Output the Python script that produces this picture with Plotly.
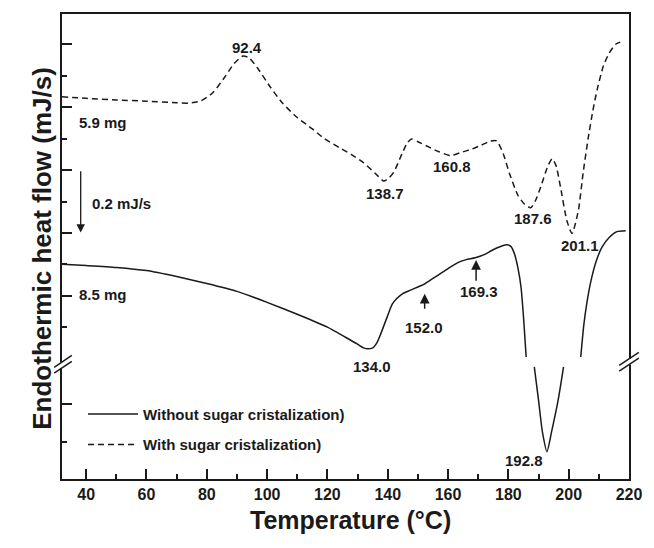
import plotly.graph_objects as go

# ---------------- data (temperature in °C, heat flow in mJ/s, arbitrary offset) -------------
temp_with = [32, 40, 50, 60, 70, 74, 78, 82, 86, 89, 92, 94, 97, 101, 105, 110, 115, 119, 124,
             128, 132, 136, 138.7, 140.5, 142, 144.7, 146.5, 147.9, 150, 153.9, 157, 160.8, 164,
             168, 171, 174, 176.1, 178.3, 180.4, 183.2, 185.3, 187.4, 189, 190.7, 192.9, 194.5,
             195.8, 197.3, 199.4, 201.1, 203.2, 204.8, 206.5, 208, 209.5, 211.5, 213.5, 215.7, 218.4]
flow_with = [1.216, 1.211, 1.206, 1.202, 1.197, 1.196, 1.203, 1.229, 1.279, 1.321, 1.346, 1.340,
             1.305, 1.248, 1.197, 1.150, 1.114, 1.083, 1.054, 1.032, 1.006, 0.971, 0.948, 0.959,
             0.976, 1.034, 1.070, 1.082, 1.073, 1.055, 1.041, 1.029, 1.038, 1.050, 1.062, 1.075,
             1.076, 1.035, 0.971, 0.902, 0.875, 0.863, 0.886, 0.928, 0.991, 1.019, 0.997, 0.928,
             0.822, 0.781, 0.854, 0.975, 1.086, 1.171, 1.241, 1.314, 1.356, 1.384, 1.394]

temp_without = [32, 40, 50, 60, 70, 80, 90, 100, 110, 120, 126, 130, 132, 133.4, 135, 136.5, 137.5,
                139.8, 141.5, 143, 145, 147.4, 150, 152.3, 155, 158.2, 161, 163.6, 166, 169, 172,
                174.5, 177, 179.4, 180.8, 182, 183.2, 184.2, 185.1, 185.9, None,
                188.6, 190, 191.3, 192.8, 194.3, 196.5, 198.3, None,
                204, 205, 206, 207.5, 209.2, 211, 213.5, 216, 218.9]
flow_without = [0.683, 0.679, 0.673, 0.663, 0.644, 0.622, 0.597, 0.562, 0.524, 0.483, 0.451, 0.429,
                0.417, 0.414, 0.417, 0.435, 0.457, 0.515, 0.556, 0.574, 0.590, 0.600, 0.611, 0.621,
                0.638, 0.658, 0.676, 0.690, 0.698, 0.704, 0.714, 0.727, 0.738, 0.745, 0.740, 0.717,
                0.670, 0.610, 0.505, 0.388, None,
                0.357, 0.251, 0.149, 0.087, 0.149, 0.251, 0.357, None,
                0.388, 0.489, 0.559, 0.635, 0.695, 0.737, 0.769, 0.787, 0.790]

series_names = ["Without sugar cristalization)", "With sugar cristalization)"]

x_ticks = [40, 60, 80, 100, 120, 140, 160, 180, 200, 220]
y_major = [1.3825, 1.1825, 0.9825, 0.7825, 0.5825, 0.238]
y_minor = [1.2825, 1.0825, 0.8825, 0.6825, 0.4825, 0.117]

# peak labels: (text, T, flow)
peak_labels = [("92.4", 93.2, 1.372), ("138.7", 139.25, 0.907), ("160.8", 161.2, 0.995),
               ("187.6", 188.05, 0.828), ("201.1", 203.8, 0.743), ("134.0", 134.9, 0.359),
               ("152.0", 151.9, 0.483), ("169.3", 170.15, 0.598), ("192.8", 185.1, 0.060)]
# arrows: (T, tip flow, tail flow)
peak_arrows = [(152.25, 0.589, 0.537), (169.3, 0.697, 0.626)]
scale_bar = (38.2, 0.984, 0.784)   # 0.2 mJ/s

FONT = "Liberation Sans, Arial, Helvetica, sans-serif"
INK = "#1a1a1a"

fig = go.Figure()
fig.add_trace(go.Scatter(x=temp_without, y=flow_without, mode="lines", name=series_names[0],
                         line=dict(color=INK, width=1.5, shape="spline", smoothing=0.6),
                         connectgaps=False, legendgroup="a"))
fig.add_trace(go.Scatter(x=temp_with, y=flow_with, mode="lines", name=series_names[1],
                         line=dict(color=INK, width=1.5, dash="6px,4px", shape="spline",
                                   smoothing=0.6),
                         legendgroup="b"))

ann = []
for txt, xx, yy in peak_labels:
    ann.append(dict(x=xx, y=yy, xref="x", yref="y", text=txt, showarrow=False,
                    font=dict(size=15, family=FONT, color=INK, weight="bold")))
for xx, tip, tail in peak_arrows:
    ann.append(dict(x=xx, y=tip, ax=xx, ay=tail, xref="x", yref="y", axref="x", ayref="y",
                    text="", showarrow=True, arrowhead=2, arrowsize=1.3, arrowwidth=1.5,
                    arrowcolor=INK))
ann.append(dict(x=scale_bar[0], y=scale_bar[2], ax=scale_bar[0], ay=scale_bar[1], xref="x",
                yref="y", axref="x", ayref="y", text="", showarrow=True, arrowhead=2,
                arrowsize=1.3, arrowwidth=1.3, arrowcolor=INK))
ann.append(dict(x=41.3, y=0.876, xref="x", yref="y", xanchor="left", text="0.2 mJ/s",
                showarrow=False, font=dict(size=15, family=FONT, color=INK, weight="bold")))
ann.append(dict(x=36.9, y=1.134, xref="x", yref="y", xanchor="left", text="5.9 mg",
                showarrow=False, font=dict(size=15, family=FONT, color=INK, weight="bold")))
ann.append(dict(x=37.0, y=0.587, xref="x", yref="y", xanchor="left", text="8.5 mg",
                showarrow=False, font=dict(size=15, family=FONT, color=INK, weight="bold")))
# axis titles
ann.append(dict(x=0.5087, y=-0.1217, xref="paper", yref="paper", text="Temperature (°C)",
                showarrow=False, font=dict(size=25, family=FONT, color=INK, weight="bold")))
ann.append(dict(x=-0.0657, y=0.4968, xref="paper", yref="paper",
                text="Endothermic heat flow (mJ/s)", textangle=-90, showarrow=False,
                font=dict(size=26, family=FONT, color=INK, weight="bold")))

shapes = []
# axis break marks (left and right)
for gx, gy0, gy1 in [(0.0, 0.2382, 0.2511), (1.0, 0.2457, 0.2586)]:
    shapes.append(dict(type="rect", xref="paper", yref="paper", x0=gx - 0.006, x1=gx + 0.006,
                       y0=gy0, y1=gy1, fillcolor="white", line=dict(width=0), layer="above"))
for x0, y0, x1, y1 in [(-0.0138, 0.2275, 0.0173, 0.2532), (-0.0138, 0.2403, 0.0173, 0.2661),
                       (0.9827, 0.2318, 1.0173, 0.2597), (0.9827, 0.2446, 1.0173, 0.2725)]:
    shapes.append(dict(type="line", xref="paper", yref="paper", x0=x0, y0=y0, x1=x1, y1=y1,
                       line=dict(color=INK, width=1.5), layer="above"))

fig.update_layout(
    width=654, height=548,
    margin=dict(l=62, r=14, t=13, b=69),
    paper_bgcolor="white", plot_bgcolor="white",
    font=dict(family=FONT, color=INK),
    showlegend=True,
    legend=dict(x=0.037, y=0.175, xanchor="left", yanchor="top", bgcolor="rgba(0,0,0,0)",
                font=dict(size=15, family=FONT, color=INK, weight="bold"),
                tracegroupgap=8, itemwidth=50),
    annotations=ann, shapes=shapes,
    xaxis=dict(range=[32, 220], tickvals=x_ticks, ticks="inside", ticklen=10, tickwidth=1.5,
               tickcolor=INK, showline=True, linecolor=INK, linewidth=2, mirror=True,
               showgrid=False, zeroline=False,
               tickfont=dict(size=16, family=FONT, color=INK, weight="bold"),
               minor=dict(tickvals=[50, 70, 90, 110, 130, 150, 170, 190, 210], ticks="inside",
                          ticklen=5, tickwidth=1.5, tickcolor=INK, showgrid=False)),
    yaxis=dict(range=[0, 1.4794], tickvals=y_major, ticktext=[""] * len(y_major),
               ticks="inside", ticklen=10, tickwidth=1.5, tickcolor=INK, showline=True,
               linecolor=INK, linewidth=2, mirror=True, showgrid=False, zeroline=False,
               minor=dict(tickvals=y_minor, ticks="inside", ticklen=5, tickwidth=1.5,
                          tickcolor=INK, showgrid=False)),
)

fig.write_html("out.html")
